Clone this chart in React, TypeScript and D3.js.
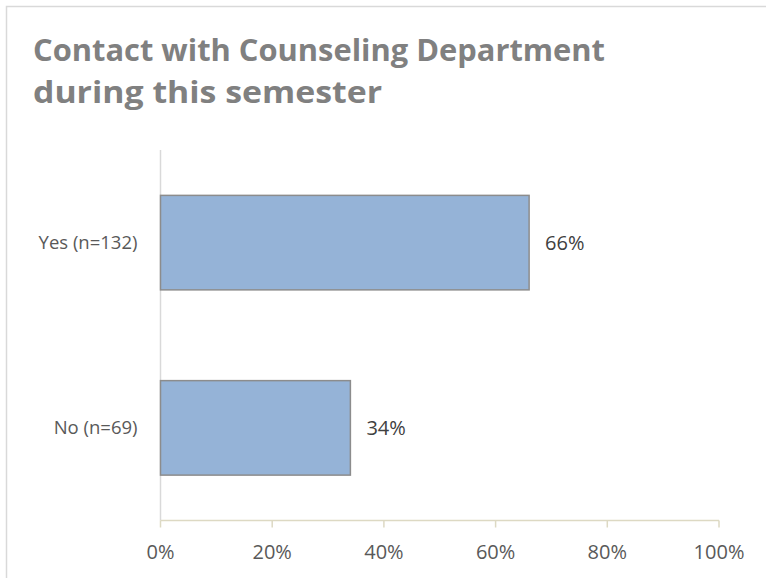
import { scaleLinear, scaleBand } from "d3";

const WIDTH = 766;
const HEIGHT = 578;

const TITLE_LINES = ["Contact with Counseling Department", "during this semester"];
const TITLE_WIDTHS = [572, 349];
const CATEGORIES = ["Yes (n=132)", "No (n=69)"];
const VALUES = [0.66, 0.34];
const X_TICKS = [0, 0.2, 0.4, 0.6, 0.8, 1];

const PLOT = { left: 160.5, right: 719, top: 150, bottom: 520.5 };
const FONT = "'Open Sans', 'DejaVu Sans', sans-serif";

export default function App() {
  const xScale = scaleLinear().domain([0, 1]).range([PLOT.left, PLOT.right]);
  const yScale = scaleBand<string>()
    .domain(CATEGORIES)
    .range([PLOT.top, PLOT.bottom])
    .paddingInner(0.49)
    .paddingOuter(0.245);

  const pct = (v: number) => `${Math.round(v * 100)}%`;

  return (
    <svg
      width={WIDTH}
      height={HEIGHT}
      style={{ position: "absolute", left: 0, top: 0, background: "#fff" }}
    >
      {/* chart border */}
      <rect x={6.5} y={6.5} width={900} height={700} fill="#fff" stroke="#d9d9d9" strokeWidth={1.5} />

      {/* TITLE */}
      {TITLE_LINES.map((t, i) => (
        <text
          key={t}
          x={33}
          y={61 + i * 42}
          fontFamily={FONT}
          fontWeight={700}
          fontSize={31}
          fill="#808080"
          textLength={TITLE_WIDTHS[i]}
          lengthAdjust="spacingAndGlyphs"
        >
          {t}
        </text>
      ))}

      {/* AXES */}
      <line x1={PLOT.left} x2={PLOT.left} y1={PLOT.top} y2={PLOT.bottom} stroke="#d9d9d9" strokeWidth={1.5} />
      <line x1={PLOT.left} x2={PLOT.right} y1={PLOT.bottom} y2={PLOT.bottom} stroke="#ddd9c3" strokeWidth={1.5} />
      {X_TICKS.map(t => (
        <g key={t} transform={`translate(${xScale(t)},${PLOT.bottom})`}>
          <line y2={7} stroke="#ddd9c3" strokeWidth={1.5} />
          <text y={38} textAnchor="middle" fontFamily={FONT} fontSize={20} fill="#595959">
            {pct(t)}
          </text>
        </g>
      ))}

      {/* BARS */}
      {CATEGORIES.map((c, i) => {
        const y = yScale(c) ?? 0;
        const h = yScale.bandwidth();
        const xEnd = xScale(VALUES[i]);
        return (
          <g key={c}>
            <rect
              x={PLOT.left}
              y={y}
              width={xEnd - PLOT.left}
              height={h}
              fill="#95b3d7"
              stroke="#8c8c8c"
              strokeWidth={1.5}
            />
            <text
              x={PLOT.left - 23}
              y={y + h / 2}
              dy="0.35em"
              textAnchor="end"
              fontFamily={FONT}
              fontSize={18.5}
              fill="#595959"
            >
              {c}
            </text>
            <text
              x={xEnd + 16}
              y={y + h / 2}
              dy="0.35em"
              fontFamily={FONT}
              fontSize={20}
              fill="#404040"
            >
              {pct(VALUES[i])}
            </text>
          </g>
        );
      })}
    </svg>
  );
}
